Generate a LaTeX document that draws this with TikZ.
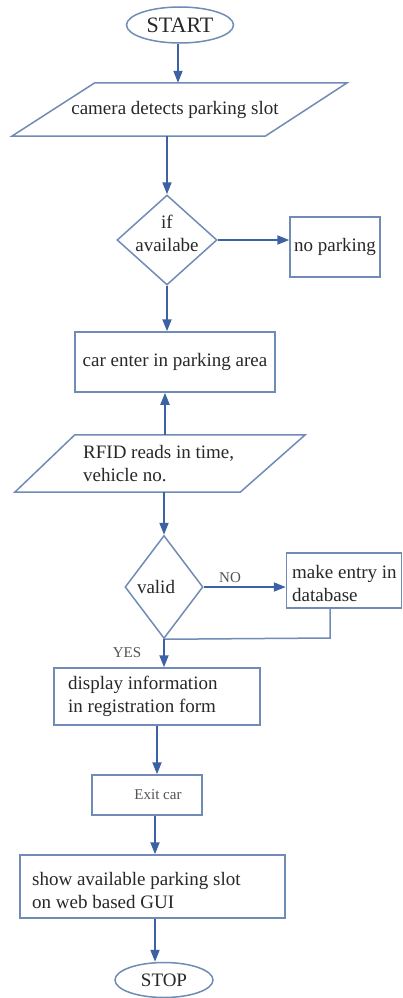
\documentclass[tikz,border=0pt]{standalone}
\usepackage{fontspec}
\setmainfont{Liberation Serif}
\usetikzlibrary{arrows.meta,shapes.geometric}
\definecolor{edgeblue}{RGB}{112,140,182}
\definecolor{arrowblue}{RGB}{60,98,163}
\definecolor{txt}{RGB}{40,40,40}
\begin{document}
\begin{tikzpicture}[x=1pt,y=-1pt,
  shp/.style={draw=edgeblue,line width=1.5pt,fill=white,inner sep=0pt,text=txt},
  boxnode/.style={shp,rectangle},
  ghost/.style={rectangle,inner sep=0pt,text=txt},
  oval/.style={shp,ellipse},
  dia/.style={shp,diamond},
  lbl/.style={inner sep=0pt,text=txt,font=\fontsize{19}{23}\selectfont},
  small/.style={inner sep=0pt,text=txt!80,font=\fontsize{15}{18}\selectfont},
  flow/.style={draw=arrowblue,line width=1.8pt,-{Triangle[length=12pt,width=9pt]}},
  plain/.style={draw=edgeblue,line width=1.5pt}
]
\fill[white] (0,0) rectangle (403,998);
\useasboundingbox (0,0) rectangle (403,998);

% START
\node[oval,minimum width=107pt,minimum height=36pt,font=\fontsize{22}{26}\selectfont] (start) at (180,25) {START};

% parallelogram 1
\node[ghost,minimum width=335pt,minimum height=53pt] (p1) at (179.5,109.5) {};
\draw[shp] ([xshift=83pt]p1.north west) -- (p1.north east) -- ([xshift=-82pt]p1.south east) -- (p1.south west) -- cycle;
\node[lbl] (p1t) at (175,110) {camera detects parking slot};

% diamond 1
\node[dia,minimum width=100pt,minimum height=90pt] (d1) at (167,240) {};
\node[lbl,align=center] (d1t) at (167,233) {if\\availabe};

% no parking
\node[boxnode,minimum width=90pt,minimum height=60pt,font=\fontsize{19}{23}\selectfont] (np) at (335,247) {no parking};

% car enter
\node[boxnode,minimum width=200pt,minimum height=60pt,font=\fontsize{19}{23}\selectfont] (ce) at (175,362) {car enter in parking area};

% parallelogram 2
\node[ghost,minimum width=290pt,minimum height=57pt] (p2) at (160,463.5) {};
\draw[shp] ([xshift=60pt]p2.north west) -- (p2.north east) -- ([xshift=-65pt]p2.south east) -- (p2.south west) -- cycle;
\node[lbl,align=left,anchor=west] (p2t) at (83,463.5) {RFID reads in time,\\vehicle no.};

% diamond 2
\node[dia,minimum width=78pt,minimum height=103pt] (d2) at (164,587) {};
\node[lbl] (d2t) at (156,587) {valid};

% make entry
\node[boxnode,minimum width=115pt,minimum height=55pt] (me) at (344,580.5) {};
\node[lbl,align=left,anchor=west] (met) at (292,583.5) {make entry in\\database};

% display
\node[boxnode,minimum width=206pt,minimum height=57pt] (ds) at (157,696.5) {};
\node[lbl,align=left,anchor=west] (dst) at (68,696.5) {display information\\in registration form};

% exit car
\node[boxnode,minimum width=110pt,minimum height=40pt] (ex) at (147,795) {};
\node[small] (ext) at (158,795) {Exit car};

% show
\node[boxnode,minimum width=265pt,minimum height=63pt] (sh) at (152.5,886.5) {};
\node[lbl,align=left,anchor=west] (sht) at (32,890) {show available parking slot\\on web based GUI};

% STOP
\node[oval,minimum width=98pt,minimum height=35pt,font=\fontsize{19}{23}\selectfont] (stop) at (164,980) {STOP};

% labels
\node[small] (no) at (230,578) {NO};
\node[small] (yes) at (127,653) {YES};

\coordinate (c1) at (330,638);

% connectors
\draw[flow] ([xshift=-2pt]start.south) -- ([xshift=-2pt]start.south |- p1.north);
\draw[flow] (d1.north |- p1.south) -- (d1.north);
\draw[flow] (d1.east) -- (d1.east -| np.west);
\draw[flow] (d1.south) -- (d1.south |- ce.north);
\draw[flow] ([xshift=1pt]d2.north |- p2.north) -- ([xshift=1pt]d2.north |- ce.south);
\draw[flow] (d2.north |- p2.south) -- (d2.north);
\draw[flow] (d2.east) -- (d2.east -| me.west);
\draw[plain] (me.south -| c1) -- (c1) -- (d2.south);
\draw[flow] (d2.south) -- (d2.south |- ds.north);
\draw[flow] (ds.south) -- (ds.south |- ex.north);
\draw[flow] ([xshift=8pt]ex.south) -- ([xshift=8pt]ex.south |- sh.north);
\draw[flow] ([xshift=2.5pt]sh.south) -- ([xshift=2.5pt]sh.south |- stop.north);
\end{tikzpicture}
\end{document}
